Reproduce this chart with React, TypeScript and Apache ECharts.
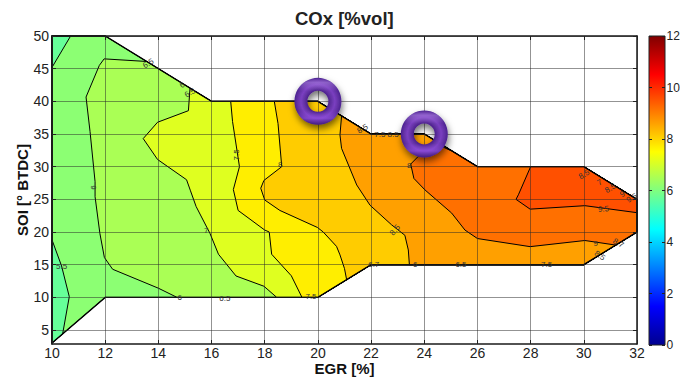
import React, { useEffect, useRef } from "react";
import * as echarts from "echarts";

const FONT = "'Liberation Sans', Arial, sans-serif";

const xTicks = [10, 12, 14, 16, 18, 20, 22, 24, 26, 28, 30, 32];
const yTicks = [5, 10, 15, 20, 25, 30, 35, 40, 45, 50];

const hull = [[10,50],[12,50],[16,40],[20,40],[22,35],[24,35],[26,30],[30,30],[32,25],[32,20],[30,15],[22,15],[20,10],[12,10],[10,3]];
const pocketTop = [[10,50],[10.7,50],[10,45.2]];
const pocketBottom = [[10,18.8],[10.36,14.8],[10.65,10.1],[10.4,4.4],[10,3]];
const band6 = [[13.56,46.1],[11.96,46.5],[11.78,45.5],[11.28,40.66],[11.43,35.4],[11.62,27.7],[11.62,25.4],[11.8,19.8],[11.97,16.1],[12.28,14.3],[14,11.4],[14.7,10],[20,10],[22,15],[30,15],[32,20],[32,25],[30,30],[26,30],[24,35],[22,35],[20,40],[16,40]];
const band65 = [[15.19,42],[15.13,38.57],[13.97,36.8],[13.43,34.3],[13.97,31.1],[15.06,28],[15.2,26.4],[15.42,23.9],[15.94,19.8],[16.26,16.6],[16.92,13.27],[17.97,11.7],[18.45,10],[20,10],[22,15],[30,15],[32,20],[32,25],[30,30],[26,30],[24,35],[22,35],[20,40],[16,40]];
const band7 = [[16.72,40],[16.79,36.9],[17.05,30],[16.82,26.5],[17,23.3],[18,20.3],[18.17,20],[18.26,16.6],[19,13.3],[19.4,10],[20,10],[22,15],[30,15],[32,20],[32,25],[30,30],[26,30],[24,35],[22,35],[20,40]];
const band75 = [[18.36,40],[18.5,36.6],[18.64,30],[17.97,27.9],[17.85,26.7],[18,24.9],[18.57,23.3],[19.98,20.7],[20.2,20],[20.7,17.8],[20.83,16.5],[21,14.4],[21.08,12.7],[22,15],[30,15],[32,20],[32,25],[30,30],[26,30],[24,35],[22,35],[20,40]];
const band8 = [[20.89,37.8],[20.83,34.85],[20.89,32.8],[21.46,27.2],[21.96,24.1],[22.77,21.1],[23.27,19.5],[23.4,17.25],[23.44,15],[30,15],[32,20],[32,25],[30,30],[26,30],[24,35],[22,35]];
const band85 = [[25.03,32.4],[24.6,33.2],[24.2,33],[23.78,31.6],[23.49,30.4],[23.61,28.2],[24.03,26.43],[25.03,22.9],[25.53,20.3],[26,19],[27.98,17.76],[30.04,18.7],[31.2,18],[32,20],[32,25],[30,30],[26,30]];
const band9 = [[28,30],[27.54,25.7],[27.45,25],[27.98,23.5],[30.04,24.03],[32,22.96],[32,25],[30,30]];

const bands = [hull, pocketTop, pocketBottom, band6, band65, band7, band75, band8, band85, band9];
const bandColors = ["#8cff73", "#66ff99", "#66ff99", "#aaff55", "#dfff20", "#ffee00", "#ffcc00", "#ffa000", "#ff7000", "#ff5000"];

// text, x, y, rotation in degrees
const contourLabels: [string, number, number, number][] = [
  ["6", 14.8, 10, 0],
  ["6.5", 16.5, 9.9, 0],
  ["7.5", 19.74, 10.2, 0],
  ["6.7", 22.1, 15, 0],
  ["6", 23.66, 15, 0],
  ["6.5", 25.38, 15, 0],
  ["7.5", 28.6, 15, 0],
  ["8.5", 22.9, 20.3, -50],
  ["9", 30.45, 18.3, 0],
  ["8.7", 31.3, 18.3, 30],
  ["8.5", 30.6, 16.4, 35],
  ["9.5", 30.74, 23.5, -5],
  ["8.5", 30.01, 28.8, -30],
  ["7", 30.6, 27.6, -30],
  ["8.5", 31.0, 26.7, -30],
  ["9", 31.45, 25.8, -30],
  ["9.5", 31.8, 25.2, -30],
  ["8.5", 21.68, 35.8, -30],
  ["7.5", 22.33, 35, 0],
  ["8.5", 22.83, 35, 0],
  ["8", 23.43, 30.15, 0],
  ["8", 18.58, 30.4, 0],
  ["7.5", 16.94, 31.8, -90],
  ["7", 15.8, 20.3, 0],
  ["6", 11.55, 26.8, -90],
  ["5.5", 10.36, 14.7, 0],
  ["6.5", 13.62, 45.8, -30],
  ["6", 14.9, 42.5, -30],
  ["6.5", 15.19, 41.3, -30],
];

const markers = [[20, 40], [24, 35]];
const barValues = [12];
const jetStops: [number, string][] = [[0, "#00008f"], [0.125, "#0000ff"], [0.375, "#00ffff"], [0.625, "#ffff00"], [0.875, "#ff0000"], [1, "#800000"]];

const axisText = { color: "#222", fontFamily: FONT, fontSize: 14 };
const nameText = { color: "#111", fontFamily: FONT, fontSize: 15, fontWeight: "bold" as const };
const lineDark = { color: "#1a1a1a", width: 1.5 };
const tick = (customValues: number[]) => ({ show: true, inside: true, length: 4, customValues, lineStyle: { color: "#222", width: 1 } });

export default function App() {
  const ref = useRef<HTMLDivElement>(null);
  useEffect(() => {
    const chart = echarts.init(ref.current!, undefined, { renderer: "svg" });
    chart.setOption({
      animation: false,
      backgroundColor: "#fff",
      title: {
        text: "COx [%vol]", left: 290, top: 4,
        textStyle: { color: "#222", fontFamily: FONT, fontSize: 18.5, fontWeight: "bold" },
      },
      grid: [
        { left: 52, width: 585, top: 36, height: 308, outerBoundsMode: "none" },
        { left: 649, width: 16, top: 36, height: 309, show: true, borderColor: "#222", borderWidth: 1, z: 4, outerBoundsMode: "none" },
      ],
      xAxis: [
        {
          type: "value", gridIndex: 0, min: 10, max: 32, interval: 2, z: 4, position: "bottom",
          name: "EGR [%]", nameLocation: "middle", nameGap: 17, nameMoveOverlap: false, nameTextStyle: nameText,
          axisLine: { onZero: false, lineStyle: lineDark }, axisTick: tick(xTicks),
          axisLabel: { ...axisText, margin: 2, customValues: xTicks },
          splitLine: { show: true, lineStyle: { color: "rgba(40,40,40,0.5)", width: 1 } },
        },
        {
          type: "value", gridIndex: 0, min: 10, max: 32, interval: 2, z: 4, position: "top",
          axisLine: { onZero: false, lineStyle: lineDark }, axisTick: tick(xTicks),
          axisLabel: { show: false }, splitLine: { show: false },
        },
        { type: "category", gridIndex: 1, data: [""], show: false },
      ],
      yAxis: [
        {
          type: "value", gridIndex: 0, min: 2.86, max: 50, z: 4, position: "left",
          name: "SOI [° BTDC]", nameLocation: "middle", nameGap: 22, nameMoveOverlap: false, nameTextStyle: nameText,
          axisLine: { onZero: false, lineStyle: lineDark }, axisTick: tick(yTicks),
          axisLabel: { ...axisText, margin: 3, customValues: yTicks },
          splitLine: { show: true, lineStyle: { color: "rgba(40,40,40,0.5)", width: 1 } },
        },
        {
          type: "value", gridIndex: 0, min: 2.86, max: 50, z: 4, position: "right",
          axisLine: { onZero: false, lineStyle: lineDark }, axisTick: tick(yTicks),
          axisLabel: { show: false }, splitLine: { show: false },
        },
        {
          type: "value", gridIndex: 1, min: 0, max: 12, interval: 2, z: 4, position: "right",
          axisLine: { lineStyle: { color: "#222", width: 1 } }, axisTick: { show: true, inside: true, length: 3, lineStyle: { color: "#222" } },
          axisLabel: { ...axisText, fontSize: 12, margin: 1.5 }, splitLine: { show: false },
        },
        {
          type: "value", gridIndex: 1, min: 0, max: 12, interval: 2, z: 4, position: "left",
          axisLine: { lineStyle: { color: "#222", width: 1 } }, axisTick: { show: true, inside: true, length: 3, lineStyle: { color: "#222" } },
          axisLabel: { show: false }, splitLine: { show: false },
        },
      ],
      series: [
        {
          type: "custom", xAxisIndex: 0, yAxisIndex: 0, z: 2, silent: true, clip: false,
          data: bands.map((_, i) => [i]),
          renderItem: (params: any, api: any) => {
            const i = api.value(0);
            return {
              type: "polygon",
              shape: { points: bands[i].map((p) => api.coord(p)) },
              style: { fill: bandColors[i], stroke: "#000", lineWidth: 1 },
            };
          },
        },
        {
          type: "custom", xAxisIndex: 0, yAxisIndex: 0, z: 3, silent: true, clip: false,
          data: [[0]],
          renderItem: (params: any, api: any) => ({
            type: "polygon",
            shape: { points: hull.map((p) => api.coord(p)) },
            style: { fill: "none", stroke: "#000", lineWidth: 1.4 },
          }),
        },
        {
          type: "custom", xAxisIndex: 0, yAxisIndex: 0, z: 5, silent: true, clip: false,
          data: contourLabels.map((l, i) => [l[1], l[2], i]),
          renderItem: (params: any, api: any) => {
            const [x, y] = api.coord([api.value(0), api.value(1)]);
            const l = contourLabels[api.value(2)];
            return {
              type: "text", x, y, rotation: (-l[3] * Math.PI) / 180,
              style: { text: l[0], fill: "#333", font: `8px ${FONT}`, textAlign: "center", textVerticalAlign: "middle" },
            };
          },
        },
        {
          type: "custom", xAxisIndex: 0, yAxisIndex: 0, z: 8, silent: true, clip: false,
          data: markers,
          renderItem: (params: any, api: any) => {
            const [cx, cy] = api.coord([api.value(0), api.value(1)]);
            const shape = { cx, cy, r: 23.5, r0: 10.5 };
            return {
              type: "group",
              children: [
                {
                  type: "ring", shape,
                  style: {
                    fill: new echarts.graphic.RadialGradient(0.5, 0.5, 0.5, [
                      { offset: 0.44, color: "#4a1f8a" },
                      { offset: 0.58, color: "#6433a5" },
                      { offset: 0.72, color: "#7a3fc0" },
                      { offset: 0.9, color: "#5e2ea0" },
                      { offset: 1, color: "#4a2190" },
                    ]),
                    shadowBlur: 7, shadowOffsetX: 1, shadowOffsetY: 4, shadowColor: "rgba(0,0,0,0.55)",
                  },
                },
                {
                  type: "ring", shape,
                  style: {
                    fill: new echarts.graphic.LinearGradient(0, 0, 0, 1, [
                      { offset: 0, color: "rgba(190,150,240,0)" },
                      { offset: 0.1, color: "rgba(190,150,240,0.45)" },
                      { offset: 0.28, color: "rgba(190,150,240,0)" },
                      { offset: 0.7, color: "rgba(160,90,240,0)" },
                      { offset: 0.86, color: "rgba(160,90,240,0.45)" },
                      { offset: 1, color: "rgba(40,10,90,0.25)" },
                    ]),
                  },
                },
              ],
            };
          },
        },
        {
          type: "bar", xAxisIndex: 2, yAxisIndex: 2, barWidth: "100%", silent: true,
          data: barValues,
          itemStyle: {
            color: new echarts.graphic.LinearGradient(0, 1, 0, 0, jetStops.map(([offset, color]) => ({ offset, color }))),
          },
        },
      ],
    });
    return () => chart.dispose();
  }, []);
  return <div ref={ref} style={{ position: "absolute", left: 0, top: 0, width: 680, height: 381 }} />;
}
